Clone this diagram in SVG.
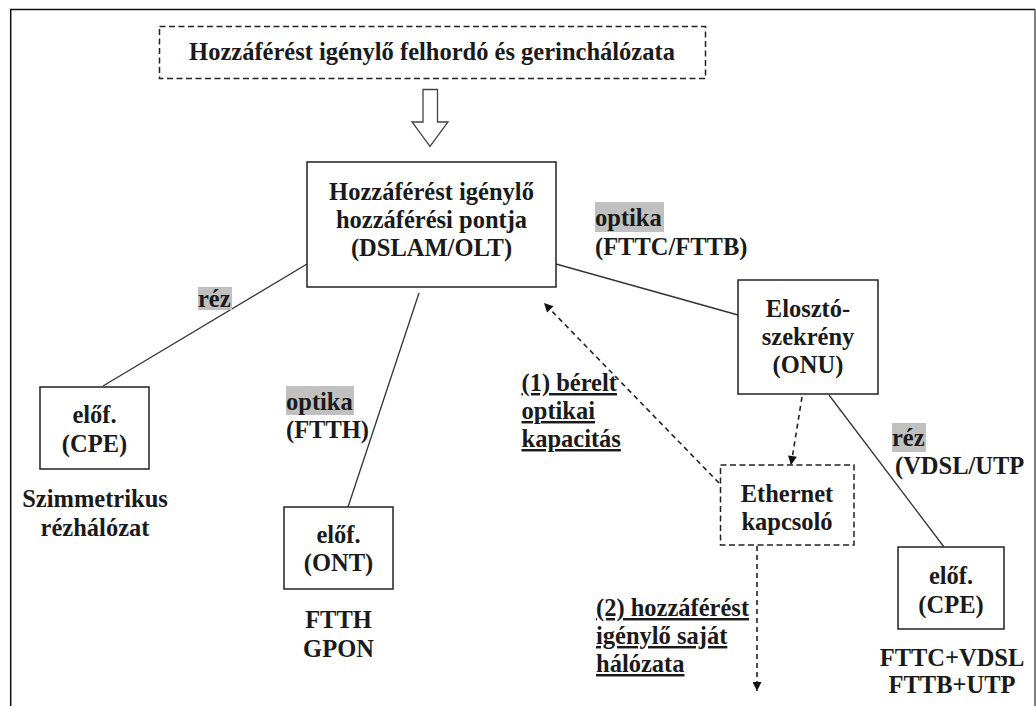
<svg xmlns="http://www.w3.org/2000/svg" width="1036" height="706" viewBox="0 0 1036 706">
<style>
text{font-weight:bold;font-size:24.5px;fill:#1a1a1a}
.c{text-anchor:middle}
.u{text-decoration:underline}
.box{fill:#fff;stroke:#222;stroke-width:1.5}
.dbox{fill:#fff;stroke:#222;stroke-width:1.5;stroke-dasharray:6 3.5}
.ln{stroke:#333;stroke-width:1.3;fill:none}
.dl{stroke:#222;stroke-width:1.6;fill:none;stroke-dasharray:5 4}
.hl{fill:#c0c0c0}
</style>
<defs>
<marker id="ah" viewBox="0 0 10 10" refX="10" refY="5" markerWidth="10" markerHeight="9" markerUnits="userSpaceOnUse" orient="auto">
<path d="M0,0 L10,5 L0,10 z" fill="#111"/>
</marker>
</defs>
<rect width="1036" height="706" fill="#fff"/>
<g id="frame">
<line x1="10" y1="9.5" x2="1035" y2="9.5" stroke="#111" stroke-width="1.5"/>
<line x1="10.7" y1="9" x2="10.7" y2="706" stroke="#111" stroke-width="1.5"/>
<line x1="1035" y1="9" x2="1035" y2="706" stroke="#555" stroke-width="1.5"/>
</g>
<g id="connectors">
<path d="M423,89.5 L437.5,89.5 L437.5,122 L448,122 L430,146.5 L412,122 L423,122 Z" fill="#fff" stroke="#444" stroke-width="1.3"/>
<line class="ln" x1="307" y1="264" x2="103" y2="386"/>
<line class="ln" x1="419" y1="293" x2="348" y2="507"/>
<line class="ln" x1="556" y1="264" x2="738" y2="315"/>
<line class="ln" x1="829" y1="395" x2="944" y2="547"/>
<line class="dl" x1="719" y1="483" x2="544" y2="303" marker-end="url(#ah)"/>
<line class="dl" x1="802" y1="397" x2="791" y2="465" marker-end="url(#ah)"/>
<line class="dl" x1="757" y1="546" x2="757" y2="691" marker-end="url(#ah)"/>
</g>
<g font-family="Liberation Serif, Times New Roman, serif">
<g id="backbone">
<rect class="dbox" x="159.5" y="26.5" width="546" height="52"/>
<text class="c" x="432" y="60">Hozzáférést igénylő felhordó és gerinchálózata</text>
</g>
<g id="access-point">
<rect class="box" x="307" y="162" width="249" height="125"/>
<text class="c" x="431.5" y="200">Hozzáférést igénylő</text>
<text class="c" x="431.5" y="228">hozzáférési pontja</text>
<text class="c" x="431.5" y="256">(DSLAM/OLT)</text>
</g>
<g id="label-rez-left">
<rect class="hl" x="198" y="287" width="34" height="23"/>
<text x="198" y="307">réz</text>
</g>
<g id="label-optika-fttc">
<rect class="hl" x="595" y="202" width="69" height="30"/>
<text x="595" y="226">optika</text>
<text x="595" y="255">(FTTC/FTTB)</text>
</g>
<g id="onu">
<rect class="box" x="738" y="280" width="140" height="114"/>
<text class="c" x="808" y="317">Elosztó-</text>
<text class="c" x="808" y="345">szekrény</text>
<text class="c" x="808" y="373">(ONU)</text>
</g>
<g id="cpe-left">
<rect class="box" x="40" y="387" width="109" height="82"/>
<text class="c" x="94.5" y="423">előf.</text>
<text class="c" x="94.5" y="452">(CPE)</text>
<text class="c" x="95" y="507">Szimmetrikus</text>
<text class="c" x="95" y="536">rézhálózat</text>
</g>
<g id="label-optika-ftth">
<rect class="hl" x="286" y="386" width="68" height="29"/>
<text x="286" y="410">optika</text>
<text x="286" y="438">(FTTH)</text>
</g>
<g id="ont">
<rect class="box" x="284" y="507" width="109" height="82"/>
<text class="c" x="338.5" y="543">előf.</text>
<text class="c" x="338.5" y="571">(ONT)</text>
<text class="c" x="338.5" y="628">FTTH</text>
<text class="c" x="338.5" y="657">GPON</text>
</g>
<g id="label-leased">
<text class="u" x="521.5" y="391">(1) bérelt</text>
<text class="u" x="521.5" y="419">optikai</text>
<text class="u" x="521.5" y="447">kapacitás</text>
</g>
<g id="label-rez-right">
<rect class="hl" x="892" y="423" width="34" height="29"/>
<text x="892" y="446">réz</text>
<text x="895" y="474">(VDSL/UTP</text>
</g>
<g id="ethernet">
<rect class="dbox" x="720.5" y="465" width="133.5" height="80"/>
<text class="c" x="787" y="502">Ethernet</text>
<text class="c" x="787" y="530">kapcsoló</text>
</g>
<g id="label-own">
<text class="u" x="596" y="616">(2) hozzáférést</text>
<text class="u" x="596" y="644">igénylő saját</text>
<text class="u" x="596" y="672">hálózata</text>
</g>
<g id="cpe-right">
<rect class="box" x="898" y="547" width="106" height="82"/>
<text class="c" x="951" y="584">előf.</text>
<text class="c" x="951" y="613">(CPE)</text>
<text class="c" x="952" y="666">FTTC+VDSL</text>
<text class="c" x="952" y="693">FTTB+UTP</text>
</g>
</g>
</svg>
